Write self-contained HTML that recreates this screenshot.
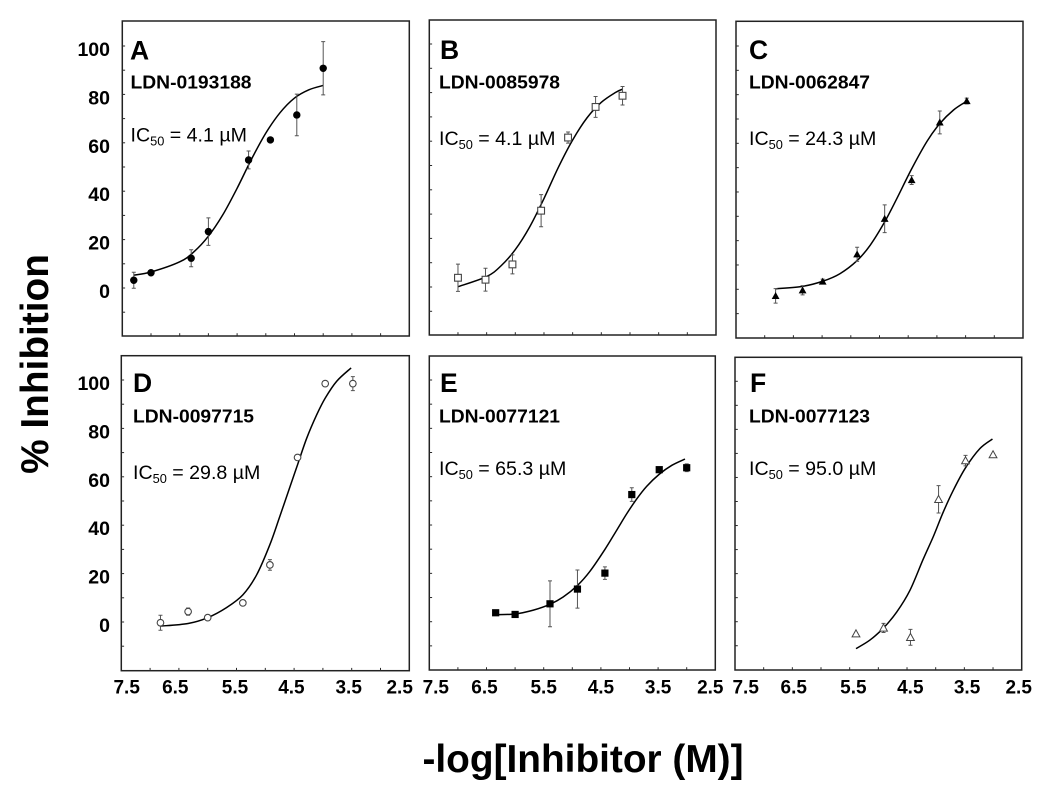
<!DOCTYPE html>
<html lang="en">
<head>
<meta charset="utf-8">
<title>Inhibition dose-response curves</title>
<style>
html,body{margin:0;padding:0;background:#fff;}
svg{display:block;}
text{font-family:"Liberation Sans",Arial,sans-serif;fill:#000;}
</style>
</head>
<body>
<svg id="chart" xmlns="http://www.w3.org/2000/svg" width="1050" height="787" viewBox="0 0 1050 787">
<rect x="0" y="0" width="1050" height="787" fill="#fff"/>
<text transform="translate(48,364) rotate(-90)" text-anchor="middle" font-size="38.8" font-weight="700">% Inhibition</text>
<text x="583" y="772" text-anchor="middle" font-size="38.8" font-weight="700">-log[Inhibitor (M)]</text>
</svg>
<script>
// ---- chart data ----
const panelIds = ['a', 'b', 'c', 'd', 'e', 'f'];
const panelLetters = ['A', 'B', 'C', 'D', 'E', 'F'];
const compoundNames = ['LDN-0193188', 'LDN-0085978', 'LDN-0062847', 'LDN-0097715', 'LDN-0077121', 'LDN-0077123'];
const ic50Labels = ['4.1', '4.1', '24.3', '29.8', '65.3', '95.0'];
const xTickLabels = ['7.5', '6.5', '5.5', '4.5', '3.5', '2.5'];
const yTickLabels = ['100', '80', '60', '40', '20', '0'];

const aDoseX = [7.30, 7.00, 6.30, 6.00, 5.30, 4.92, 4.46, 4.00];
const aInhibition = [3.2, 6.3, 12.3, 23.3, 52.9, 61.2, 71.5, 90.8];
const aError = [3.3, 0, 3.5, 5.7, 3.7, 0, 8.6, 11];
const aFitX = [7.30, 7.00, 6.50, 6.25, 6.00, 5.75, 5.50, 5.25, 5.00, 4.75, 4.50, 4.25, 4.00];
const aFitY = [5.3, 6.6, 10.8, 15, 21.4, 30.2, 41.2, 53.2, 64, 72.5, 78.5, 81.9, 83.7];

const bDoseX = [7.00, 6.52, 6.05, 5.55, 5.08, 4.60, 4.13];
const bInhibition = [3.8, 3.0, 9.3, 31.4, 61.5, 74.1, 78.7];
const bError = [5.6, 4.7, 3.9, 6.6, 2.3, 4.3, 3.8];
const bFitX = [7.00, 6.50, 6.25, 6.00, 5.75, 5.50, 5.25, 5.00, 4.75, 4.50, 4.25, 4.13];
const bFitY = [0.1, 4.3, 8.7, 15.4, 24.7, 36.4, 49.2, 60.5, 69.6, 76, 80.1, 81.4];

const cDoseX = [6.81, 6.34, 5.99, 5.39, 4.91, 4.44, 3.95, 3.48];
const cInhibition = [-2.7, -0.4, 3.2, 14.4, 29.0, 44.9, 68.6, 77.4];
const cError = [3.0, 1.9, 1.0, 2.9, 5.7, 1.8, 4.7, 1.2];
const cFitX = [6.81, 6.34, 5.99, 5.69, 5.39, 5.16, 4.91, 4.70, 4.44, 4.17, 3.95, 3.71, 3.48];
const cFitY = [0.2, 1.2, 3.3, 6.4, 11.8, 18.2, 27.7, 37.2, 49.5, 60.9, 68.1, 73.7, 77.3];

const dDoseX = [6.82, 6.34, 6.00, 5.39, 4.92, 4.44, 3.96, 3.48];
const dInhibition = [-0.3, 4.3, 1.8, 7.9, 23.6, 68, 98.5, 98.5];
const dError = [3.1, 1.5, 1.0, 0.5, 2.2, 1.2, 0, 2.9];
const dFitX = [6.82, 6.34, 6.00, 5.67, 5.39, 5.15, 4.92, 4.75, 4.57, 4.44, 4.28, 4.11, 3.96, 3.76, 3.51];
const dFitY = [-1.7, -0.6, 1.8, 6.0, 11.2, 19.5, 32, 43.5, 56, 65, 76, 85.5, 92.5, 99.5, 105];

const eDoseX = [6.34, 6.00, 5.39, 4.91, 4.43, 3.96, 3.48, 3.00];
const eInhibition = [3.7, 3.0, 7.4, 13.5, 20.1, 52.6, 62.9, 63.7];
const eError = [0, 0, 9.5, 7.9, 2.6, 2.8, 0, 1.6];
const eFitX = [6.34, 6.00, 5.68, 5.39, 5.16, 4.91, 4.69, 4.43, 4.22, 4.05, 3.88, 3.70, 3.48, 3.26, 3.03];
const eFitY = [2.9, 3.2, 4.8, 7.2, 10.2, 15, 20.9, 29.9, 38, 44.6, 50.6, 56, 61, 64.7, 67.3];

const fDoseX = [5.39, 4.91, 4.44, 3.95, 3.48, 3.00];
const fInhibition = [-5.0, -2.6, -6.5, 50.9, 67, 69.5];
const fError = [0, 1.9, 3.3, 5.7, 2.2, 0];
const fFitX = [5.39, 5.15, 4.91, 4.68, 4.45, 4.22, 4.04, 3.87, 3.69, 3.48, 3.23, 3.01];
const fFitY = [-11.2, -7.7, -2.6, 4, 13, 25.9, 35.5, 45.5, 54.8, 64, 72, 76];

const seriesDoseX = [aDoseX, bDoseX, cDoseX, dDoseX, eDoseX, fDoseX];
const seriesInhibition = [aInhibition, bInhibition, cInhibition, dInhibition, eInhibition, fInhibition];
const seriesError = [aError, bError, cError, dError, eError, fError];
const seriesFitX = [aFitX, bFitX, cFitX, dFitX, eFitX, fFitX];
const seriesFitY = [aFitY, bFitY, cFitY, dFitY, eFitY, fFitY];

// ---- layout (not data) ----
const frames = [
  {l:122.3, r:409.3, t:21,    b:336,   y0:288,   y100:46,    kind:'disc',    letter:[130,59.3],  name:[130.5,88.7],  ic:[130.5,141.7]},
  {l:429.3, r:716,   t:20,    b:335,   y0:287,   y100:44,    kind:'square',  letter:[440,59],    name:[439,88.7],    ic:[439,145]},
  {l:736,   r:1023,  t:21.3,  b:338,   y0:289.3, y100:46,    kind:'tri',     letter:[749,59],    name:[749,88.7],    ic:[749,145]},
  {l:121.3, r:409.3, t:355.7, b:670.7, y0:622,   y100:380,   kind:'ring',    letter:[133,392],   name:[133,422.7],   ic:[133,479]},
  {l:429.3, r:715.3, t:356,   b:670,   y0:621.7, y100:380,   kind:'block',   letter:[440,392],   name:[439,422.7],   ic:[439,475]},
  {l:735,   r:1021.7,t:357.3, b:670,   y0:621.7, y100:381.3, kind:'opentri', letter:[750,392],   name:[749,422.7],   ic:[749,475]}
];
const xLabelNudges = {3:[5.4,-3.6,-1.5,-2.7,-3,-9.6], 4:[6.5,-2,0,0,0,-5], 5:[10.7,1.4,3.7,3.3,2.7,-3]};
const SVGNS = 'http://www.w3.org/2000/svg';
const root = document.getElementById('chart');

function mk(tag, attrs, parent) {
  const el = document.createElementNS(SVGNS, tag);
  for (const k in attrs) el.setAttribute(k, attrs[k]);
  parent.appendChild(el);
  return el;
}
function xScale(f, v) { return f.l + (7.5 - v) / 5 * (f.r - f.l); }
function yScale(f, v) { return f.y0 + (f.y100 - f.y0) * v / 100; }

function smoothPath(px, py) {
  let d = 'M' + px[0].toFixed(2) + ' ' + py[0].toFixed(2);
  for (let i = 0; i < px.length - 1; i++) {
    const i0 = Math.max(i - 1, 0), i3 = Math.min(i + 2, px.length - 1);
    const c1x = px[i] + (px[i + 1] - px[i0]) / 6, c1y = py[i] + (py[i + 1] - py[i0]) / 6;
    const c2x = px[i + 1] - (px[i3] - px[i]) / 6, c2y = py[i + 1] - (py[i3] - py[i]) / 6;
    d += 'C' + c1x.toFixed(2) + ' ' + c1y.toFixed(2) + ' ' + c2x.toFixed(2) + ' ' + c2y.toFixed(2) + ' ' + px[i + 1].toFixed(2) + ' ' + py[i + 1].toFixed(2);
  }
  return d;
}

function drawMarker(kind, x, y, g) {
  if (kind === 'disc') return mk('circle', {cx:x, cy:y, r:3.7, fill:'#000'}, g);
  if (kind === 'ring') return mk('circle', {cx:x, cy:y, r:3.3, fill:'#fff', stroke:'#444', 'stroke-width':1.1}, g);
  if (kind === 'square') return mk('rect', {x:x-3.4, y:y-3.4, width:6.8, height:6.8, fill:'#fff', stroke:'#444', 'stroke-width':1.1}, g);
  if (kind === 'block') return mk('rect', {x:x-3.6, y:y-3.6, width:7.2, height:7.2, fill:'#000'}, g);
  const s = 3.9;
  const pts = (x) + ',' + (y - s) + ' ' + (x + s) + ',' + (y + s * 0.8) + ' ' + (x - s) + ',' + (y + s * 0.8);
  if (kind === 'tri') return mk('polygon', {points:pts, fill:'#000'}, g);
  return mk('polygon', {points:pts, fill:'#fff', stroke:'#444', 'stroke-width':1}, g);
}

panelIds.forEach(function (id, p) {
  const f = frames[p];
  const g = mk('g', {}, root);
  
  

  const frame = mk('rect', {x:f.l, y:f.t, width:f.r-f.l, height:f.b-f.t, fill:'#fff', stroke:'#222', 'stroke-width':1.5}, g);
  
  

  // y ticks every 10 units, x ticks every 0.5 units
  for (let v = -10; v <= 100; v += 10) {
    const yt = yScale(f, v);
    const tick = mk('line', {x1:f.l, x2:f.l+2.8, y1:yt, y2:yt, stroke:'#2a2a2a', 'stroke-width':1}, g);
    
    
  }
  for (let k = 1; k <= 9; k++) {
    const xt = xScale(f, 7.5 - k * 0.5);
    const tick = mk('line', {x1:xt, x2:xt, y1:f.b, y2:f.b-2.8, stroke:'#2a2a2a', 'stroke-width':1}, g);
    
    
  }

  // y tick labels on the first column
  if (p === 0 || p === 3) {
    yTickLabels.forEach(function (lab) {
      const t = mk('text', {x:110, y:yScale(f, Number(lab)) + 10, 'text-anchor':'end', 'font-size':19.5, 'font-weight':700}, g);
      t.textContent = lab;
      
      
    });
  }
  // x tick labels on the bottom row
  if (p >= 3) {
    xTickLabels.forEach(function (lab, i) {
      const t = mk('text', {x:xScale(f, Number(lab)) + xLabelNudges[p][i], y:693.5, 'text-anchor':'middle', 'font-size':19, 'font-weight':700}, g);
      t.textContent = lab;
      
      
    });
  }

  // fitted curve
  const fitPx = seriesFitX[p].map(function (v) { return xScale(f, v); });
  const fitPy = seriesFitY[p].map(function (v) { return yScale(f, v); });
  const curve = mk('path', {d:smoothPath(fitPx, fitPy), fill:'none', stroke:'#000', 'stroke-width':1.5}, g);
  
  

  // error bars and points
  seriesDoseX[p].forEach(function (dose, i) {
    const x = xScale(f, dose);
    const val = seriesInhibition[p][i];
    const err = seriesError[p][i];
    if (err > 0) {
      const yTop = yScale(f, val + err), yBot = yScale(f, val - err);
      const bar = mk('path', {d:'M'+x+' '+yTop+'V'+yBot+'M'+(x-2)+' '+yTop+'H'+(x+2)+'M'+(x-2)+' '+yBot+'H'+(x+2), fill:'none', stroke:'#555', 'stroke-width':1}, g);
      
      
    }
    const m = drawMarker(f.kind, x, yScale(f, val), g);
    
    
  });

  // annotations
  const letter = mk('text', {x:f.letter[0], y:f.letter[1], 'font-size':26.5, 'font-weight':700}, g);
  letter.textContent = panelLetters[p];
  
  

  const nm = mk('text', {x:f.name[0], y:f.name[1], 'font-size':18.5, 'font-weight':700, textLength:121, lengthAdjust:'spacingAndGlyphs'}, g);
  nm.textContent = compoundNames[p];
  
  

  const ic = mk('text', {x:f.ic[0], y:f.ic[1], 'font-size':19.6}, g);
  
  
  const t1 = mk('tspan', {}, ic);
  t1.textContent = 'IC';
  const t2 = mk('tspan', {dy:4, 'font-size':12.8}, ic);
  t2.textContent = '50';
  const t3 = mk('tspan', {dy:-4}, ic);
  t3.textContent = ' = ' + ic50Labels[p] + ' µM';
});
</script>
</body>
</html>
